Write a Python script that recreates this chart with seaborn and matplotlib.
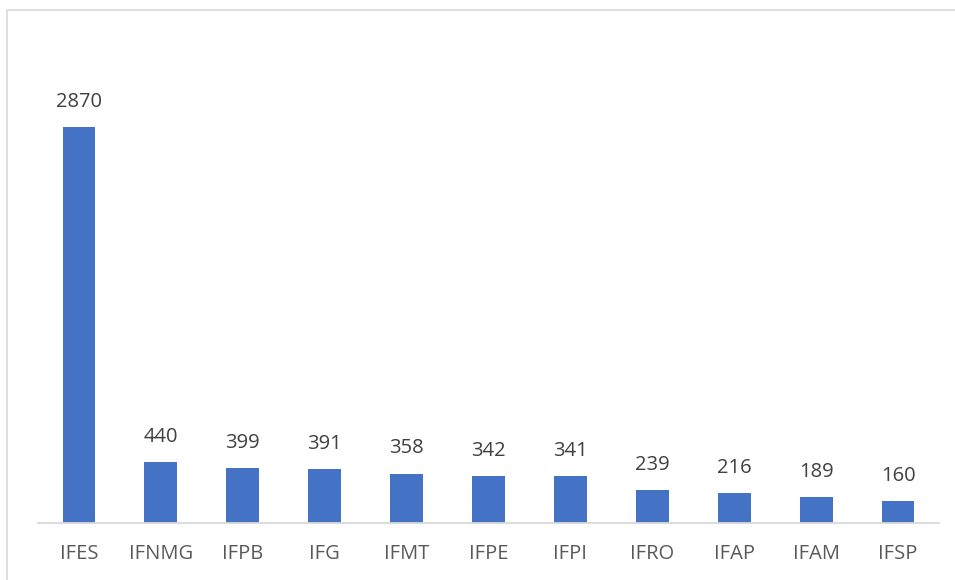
import matplotlib
matplotlib.use("Agg")
import matplotlib.pyplot as plt
import seaborn as sns
import pandas as pd
from matplotlib.patches import Rectangle

categories = ["IFES", "IFNMG", "IFPB", "IFG", "IFMT", "IFPE", "IFPI", "IFRO", "IFAP", "IFAM", "IFSP"]
values = [2870, 440, 399, 391, 358, 342, 341, 239, 216, 189, 160]

sns.set_theme(style="white")
plt.rcParams['font.family'] = ['Open Sans', 'DejaVu Sans']

df = pd.DataFrame({"inst": categories, "n": values})

fig = plt.figure(figsize=(9.55, 5.8), dpi=100)
W, H = 955, 580
ax = fig.add_axes([38 / W, 57 / H, (939 - 38) / W, (523 - 40) / H])

sns.barplot(data=df, x="inst", y="n", color="#4472C4", width=0.4, saturation=1,
            linewidth=0, ax=ax)

ax.set_xlim(-0.5, len(categories) - 0.5)
ax.set_ylim(0, 3500)
for s in ["top", "right", "left"]:
    ax.spines[s].set_visible(False)
ax.spines["bottom"].set_color("#d9d9d9")
ax.spines["bottom"].set_linewidth(1.3)
ax.set_yticks([])
ax.set_xlabel("")
ax.set_ylabel("")
ax.tick_params(axis="x", length=0, pad=15, labelsize=14.5, labelcolor="#595959")

for c in ax.containers:
    ax.bar_label(c, labels=[str(v) for v in values], padding=11, fontsize=14.5, color="#404040")

# chart border (only top & left visible in reference)
fig.patches.append(Rectangle((7 / W, -0.1), 1.2, (H - 10) / H + 0.1, transform=fig.transFigure,
                             fill=False, edgecolor="#d9d9d9", linewidth=1.2))

fig.savefig("out.png", dpi=100)
